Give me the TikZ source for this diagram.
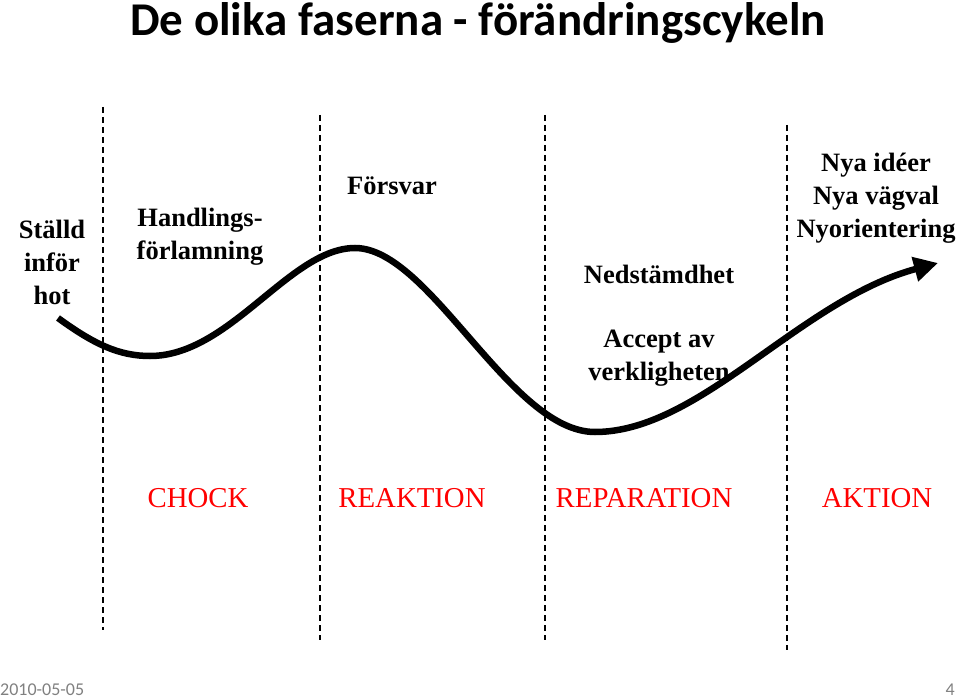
\documentclass[tikz,border=0pt]{standalone}
\usepackage{fontspec}
\setmainfont{Liberation Serif}
\newfontfamily\slidefont{Carlito}
\usetikzlibrary{arrows.meta}

\begin{document}
\begin{tikzpicture}[
    x=1pt, y=-1pt,
    phase/.style={align=center, font=\fontsize{26.5}{33}\selectfont\bfseries},
    stage/.style={text=red, font=\fontsize{28.8}{33}\selectfont},
    divider/.style={dashed, line width=1.4pt, dash pattern=on 6pt off 4pt},
    wave/.style={line width=6.5pt, -{Triangle[length=24pt, width=24pt]}}
]
\useasboundingbox (0,0) rectangle (960,700);

% title and footer
\node[anchor=base, inner sep=0pt, font=\slidefont\fontsize{47}{50}\selectfont\bfseries] (title) at (478,36) {De olika faserna - förändringscykeln};
\node[anchor=west, text=gray, font=\slidefont\fontsize{18}{20}\selectfont, inner sep=0pt] (date) at (0,690) {2010-05-05};
\node[anchor=east, text=gray, font=\slidefont\fontsize{18}{20}\selectfont, inner sep=0pt] (page) at (955,690) {4};

% dividers
\draw[divider] (103,107) -- (103,630);
\draw[divider] (320,115) -- (320,640);
\draw[divider] (545,115) -- (545,640);
\draw[divider] (787,125) -- (787,650);

% phase labels
\node[phase] (hot) at (52,262) {Ställd\\inför\\hot};
\node[phase] (lamning) at (200,237) {Handlings-\\förlamning};
\node[phase] (forsvar) at (392,186) {Försvar};
\node[phase] (nedst) at (659,274) {Nedstämdhet};
\node[phase] (accept) at (659,358) {Accept av\\verkligheten};
\node[phase] (nya) at (876,198) {Nya idéer\\Nya vägval\\Nyorientering};

% stages
\node[stage] (chock) at (198,498) {CHOCK};
\node[stage] (reaktion) at (412,498) {REAKTION};
\node[stage] (reparation) at (644,498) {REPARATION};
\node[stage] (aktion) at (877,498) {AKTION};

% change curve
\coordinate (start) at (58,318);
\coordinate (low1) at (150,356);
\coordinate (peak) at (355,248);
\coordinate (low2) at (595,432);
\coordinate (tip) at (938,263);
\draw[wave] (start) .. controls (95,345) and (120,356) .. (low1)
    .. controls (230,356) and (290,248) .. (peak)
    .. controls (430,248) and (510,432) .. (low2)
    .. controls (700,432) and (800,300) .. (tip);
\end{tikzpicture}
\end{document}
